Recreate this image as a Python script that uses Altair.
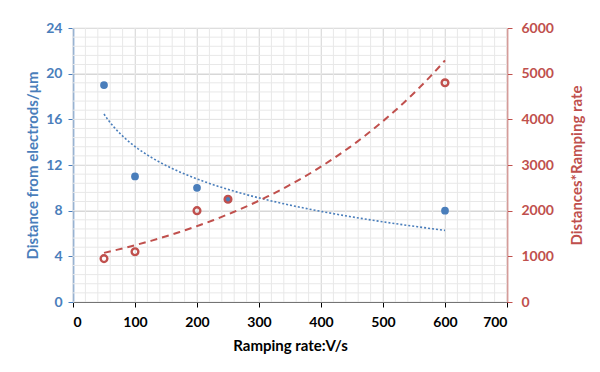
import altair as alt
import pandas as pd

rate = [50, 100, 200, 250, 600]
distance = [19, 11, 10, 9, 8]
dist_x_rate = [950, 1100, 2000, 2250, 4800]

x_ticks = [0, 100, 200, 300, 400, 500, 600, 700]
left_ticks = [0, 4, 8, 12, 16, 20, 24]
right_ticks = [0, 1000, 2000, 3000, 4000, 5000, 6000]
x_minor = list(range(0, 701, 20))
y_minor = [i * 0.8 for i in range(0, 31)]

BLUE = "#4a7ebb"
RED = "#c0504d"
FONT = "Lato"

df = pd.DataFrame({"rate": rate, "distance": distance, "dxr": dist_x_rate})
gx = pd.DataFrame({"v": x_minor})
gy = pd.DataFrame({"v": y_minor})

xscale = alt.Scale(domain=[0, 700], nice=False)
lscale = alt.Scale(domain=[0, 24], nice=False)
rscale = alt.Scale(domain=[0, 6000], nice=False)

xaxis = alt.Axis(values=x_ticks, title="Ramping rate:V/s", grid=True, gridColor="#d4d4d4",
                 domainColor="#000000", tickColor="#000000", labelColor="#000000",
                 titleColor="#000000", labelFontSize=14, labelFontWeight="bold",
                 titleFontSize=15, titleFontWeight="bold", labelPadding=8, titlePadding=9,
                 tickSize=5, labelFont=FONT, titleFont=FONT, domainWidth=1.2)

minor_x = alt.Chart(gx).mark_rule(color="#e8e8e8", strokeWidth=1).encode(
    x=alt.X("v:Q", scale=xscale, axis=xaxis))
minor_y = alt.Chart(gy).mark_rule(color="#e8e8e8", strokeWidth=1).encode(
    y=alt.Y("v:Q", scale=lscale))

laxis = alt.Axis(values=left_ticks, title="Distance from electrods/μm", grid=True,
                 gridColor="#d4d4d4", domainColor=BLUE, tickColor=BLUE, labelColor=BLUE,
                 titleColor=BLUE, labelFontSize=14, labelFontWeight="bold", titleFontSize=15,
                 titleFontWeight="bold", tickSize=5, labelPadding=6, titlePadding=5,
                 domainWidth=1.5, labelFont=FONT, titleFont=FONT)
raxis = alt.Axis(values=right_ticks, title="Distances*Ramping rate", grid=False, format="d",
                 domainColor=RED, tickColor=RED, labelColor=RED, titleColor=RED,
                 labelFontSize=14, labelFontWeight="bold", titleFontSize=15,
                 titleFontWeight="bold", tickSize=5, labelPadding=9, titlePadding=16,
                 titleAngle=270, titleBaseline="top", domainWidth=1.5, orient="right",
                 labelFont=FONT, titleFont=FONT)

base = alt.Chart(df)
blue_pts = base.mark_circle(color=BLUE, size=60, opacity=1).encode(
    x=alt.X("rate:Q", scale=xscale, axis=xaxis),
    y=alt.Y("distance:Q", scale=lscale, axis=laxis))
blue_fit = base.transform_regression("rate", "distance", method="log").mark_line(
    color=BLUE, strokeDash=[2, 2], strokeWidth=1.6).encode(
    x=alt.X("rate:Q", scale=xscale),
    y=alt.Y("distance:Q", scale=lscale))

red_pts = base.mark_point(color=RED, size=45, filled=False, strokeWidth=2.4, opacity=1).encode(
    x=alt.X("rate:Q", scale=xscale),
    y=alt.Y("dxr:Q", scale=rscale, axis=raxis))

# exponential trendline fitted as a least-squares line on log(y) (spreadsheet style)
red_fit = (
    base.transform_calculate(ly="log(datum.dxr)")
    .transform_joinaggregate(mx="mean(rate)", my="mean(ly)", xmin="min(rate)", xmax="max(rate)")
    .transform_calculate(sxy="(datum.rate - datum.mx) * (datum.ly - datum.my)")
    .transform_calculate(sxx="(datum.rate - datum.mx) * (datum.rate - datum.mx)")
    .transform_joinaggregate(Sxy="sum(sxy)", Sxx="sum(sxx)")
    .transform_filter("datum.rate == datum.xmin")
    .transform_calculate(t="sequence(0, 1.0001, 0.02)")
    .transform_flatten(["t"])
    .transform_calculate(fx="datum.xmin + datum.t * (datum.xmax - datum.xmin)")
    .transform_calculate(fy="exp(datum.my + datum.Sxy / datum.Sxx * (datum.fx - datum.mx))")
    .mark_line(color=RED, strokeDash=[7, 5], strokeWidth=2)
    .encode(x=alt.X("fx:Q", scale=xscale), y=alt.Y("fy:Q", scale=rscale))
)

left = alt.layer(minor_x, minor_y, blue_fit, blue_pts)
right = alt.layer(red_fit, red_pts)

chart = alt.layer(left, right).resolve_scale(y="independent").properties(
    width=434, height=274, autosize=alt.AutoSizeParams(type="none"),
    padding={"left": 65, "top": 20, "right": 85, "bottom": 60},
    background="#ffffff"
).configure_view(stroke=None)

chart.save("out.html", embed_options={"renderer": "svg", "actions": False})
